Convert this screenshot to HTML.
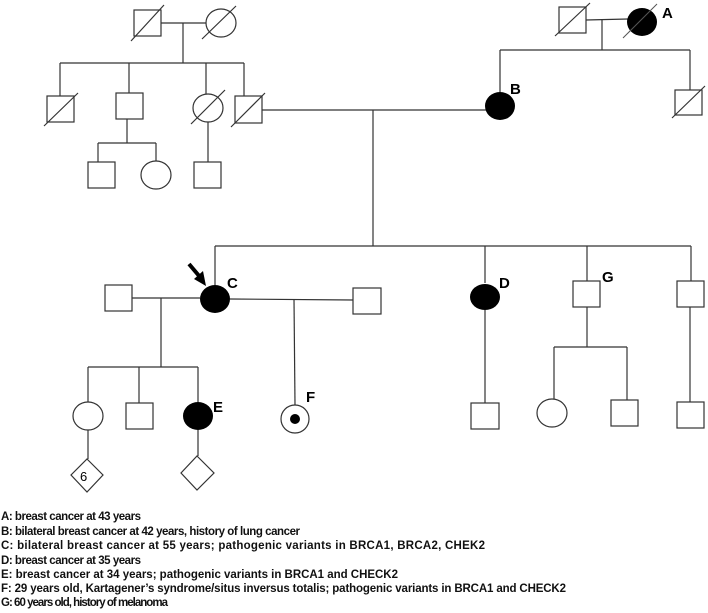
<!DOCTYPE html>
<html><head><meta charset="utf-8"><style>
html,body{margin:0;padding:0;background:#fff;}
svg{display:block;}
text{font-family:"Liberation Sans",sans-serif;}
</style></head><body>
<svg width="708" height="613" viewBox="0 0 708 613" xmlns="http://www.w3.org/2000/svg">
<g stroke="#333" stroke-width="1.2" fill="none">
<rect x="134" y="10" width="27" height="26" fill="#fff"/>
<line x1="131" y1="41" x2="164" y2="5"/>
<ellipse cx="221" cy="23" rx="15" ry="14" fill="#fff"/>
<line x1="202" y1="39" x2="236" y2="6"/>
<line x1="161" y1="23" x2="206" y2="23"/>
<line x1="183" y1="23" x2="183" y2="63"/>
<line x1="60" y1="63" x2="244" y2="63"/>
<line x1="60" y1="63" x2="60" y2="96"/>
<rect x="47" y="96" width="27" height="26" fill="#fff"/>
<line x1="44" y1="126" x2="78" y2="93"/>
<line x1="129" y1="63" x2="129" y2="93"/>
<rect x="116" y="93" width="27" height="26" fill="#fff"/>
<line x1="206" y1="63" x2="206" y2="94"/>
<ellipse cx="208" cy="108" rx="15" ry="14" fill="#fff"/>
<line x1="191" y1="124" x2="225" y2="90"/>
<line x1="244" y1="63" x2="244" y2="96"/>
<rect x="235" y="96" width="27" height="27" fill="#fff"/>
<line x1="231" y1="127" x2="265" y2="93"/>
<line x1="127" y1="119" x2="127" y2="143"/>
<line x1="98" y1="143" x2="156" y2="143"/>
<line x1="98" y1="143" x2="98" y2="162"/>
<line x1="156" y1="143" x2="156" y2="161"/>
<rect x="88" y="162" width="27" height="26" fill="#fff"/>
<ellipse cx="156" cy="175" rx="15" ry="14" fill="#fff"/>
<line x1="208" y1="122" x2="208" y2="162"/>
<rect x="194" y="162" width="27" height="26" fill="#fff"/>
<line x1="262" y1="110" x2="486" y2="110"/>
<line x1="373" y1="110" x2="373" y2="246"/>
<rect x="559" y="7" width="27" height="26" fill="#fff"/>
<line x1="555" y1="36" x2="590" y2="3"/>
<line x1="586" y1="20" x2="628" y2="19"/>
<line x1="602" y1="20" x2="602" y2="50"/>
<line x1="500" y1="50" x2="690" y2="50"/>
<line x1="500" y1="50" x2="500" y2="92"/>
<line x1="690" y1="50" x2="690" y2="90"/>
<rect x="675" y="90" width="27" height="25" fill="#fff"/>
<line x1="672" y1="118" x2="705" y2="86"/>
<line x1="215" y1="246" x2="691" y2="246"/>
<line x1="215" y1="246" x2="215" y2="285"/>
<line x1="485" y1="246" x2="485" y2="283"/>
<line x1="587" y1="246" x2="587" y2="281"/>
<line x1="691" y1="246" x2="691" y2="281"/>
<rect x="105" y="285" width="27" height="26" fill="#fff"/>
<line x1="132" y1="298" x2="200" y2="298"/>
<line x1="230" y1="299" x2="353" y2="300"/>
<rect x="353" y="288" width="28" height="26" fill="#fff"/>
<line x1="161" y1="298" x2="161" y2="367"/>
<line x1="88" y1="367" x2="198" y2="367"/>
<line x1="88" y1="367" x2="88" y2="402"/>
<line x1="139" y1="367" x2="139" y2="403"/>
<line x1="198" y1="367" x2="198" y2="402"/>
<ellipse cx="88" cy="416" rx="15" ry="14" fill="#fff"/>
<rect x="126" y="403" width="27" height="26" fill="#fff"/>
<line x1="88" y1="430" x2="88" y2="459"/>
<polygon points="87,459 103,475 87,492 71,475" fill="#fff"/>
<line x1="198" y1="430" x2="198" y2="456"/>
<polygon points="197,456 214,473 197,490 181,473" fill="#fff"/>
<line x1="294" y1="299" x2="295" y2="405"/>
<circle cx="295" cy="419" r="14" fill="#fff"/>
<line x1="485" y1="310" x2="485" y2="403"/>
<rect x="471" y="403" width="28" height="26" fill="#fff"/>
<rect x="573" y="281" width="27" height="26" fill="#fff"/>
<line x1="587" y1="307" x2="587" y2="347"/>
<line x1="554" y1="347" x2="627" y2="347"/>
<line x1="554" y1="347" x2="554" y2="399"/>
<line x1="627" y1="347" x2="627" y2="400"/>
<ellipse cx="552" cy="413" rx="15" ry="14" fill="#fff"/>
<rect x="611" y="400" width="27" height="26" fill="#fff"/>
<rect x="677" y="281" width="27" height="26" fill="#fff"/>
<line x1="690" y1="307" x2="690" y2="402"/>
<rect x="677" y="402" width="27" height="26" fill="#fff"/>
</g>
<ellipse cx="642" cy="22" rx="15" ry="14" fill="#000"/>
<line x1="623" y1="38" x2="657" y2="4" stroke="#555" stroke-width="1"/>
<ellipse cx="500" cy="106" rx="15" ry="14" fill="#000"/>
<ellipse cx="215" cy="299" rx="15" ry="14" fill="#000"/>
<ellipse cx="198" cy="416" rx="15" ry="14" fill="#000"/>
<ellipse cx="485" cy="297" rx="15" ry="13" fill="#000"/>
<circle cx="295" cy="419" r="5" fill="#000"/>
<line x1="189" y1="264" x2="200" y2="277" stroke="#000" stroke-width="4"/>
<polygon points="206,286 194,279 203,271" fill="#000"/>
<g font-weight="bold" font-size="15" fill="#000">
<text x="662" y="18">A</text>
<text x="510" y="94">B</text>
<text x="227" y="288">C</text>
<text x="499" y="288">D</text>
<text x="213" y="412">E</text>
<text x="306" y="402">F</text>
<text x="602" y="282">G</text>
</g>
<text x="80" y="481" font-size="13" fill="#000">6</text>
<g font-weight="bold" font-size="11.5" fill="#111">
<text x="1" y="520" textLength="140" lengthAdjust="spacing">A: breast cancer at 43 years</text>
<text x="1" y="535" textLength="299" lengthAdjust="spacing">B: bilateral breast cancer at 42 years, history of lung cancer</text>
<text x="1" y="549" textLength="484" lengthAdjust="spacing">C: bilateral breast cancer at 55 years; pathogenic variants in BRCA1, BRCA2, CHEK2</text>
<text x="1" y="564" textLength="140" lengthAdjust="spacing">D: breast cancer at 35 years</text>
<text x="1" y="578" textLength="397" lengthAdjust="spacing">E: breast cancer at 34 years; pathogenic variants in BRCA1 and CHECK2</text>
<text x="1" y="592" textLength="565" lengthAdjust="spacing">F: 29 years old, Kartagener’s syndrome/situs inversus totalis; pathogenic variants in BRCA1 and CHECK2</text>
<text x="1" y="606" textLength="167" lengthAdjust="spacing">G: 60 years old, history of melanoma</text>
</g>
</svg>
</body></html>
